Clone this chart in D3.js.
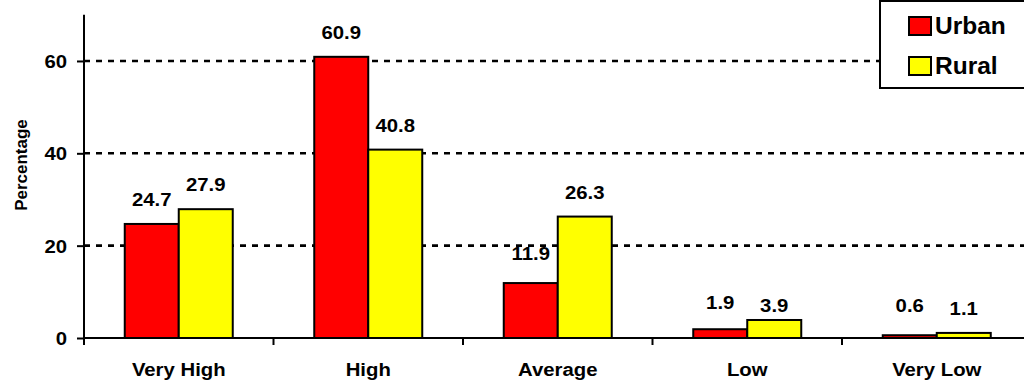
<!DOCTYPE html>
<html>
<head>
<meta charset="utf-8">
<script src="https://cdn.jsdelivr.net/npm/d3@7"></script>
<style>
  body { margin: 0; background: #fff; }
  text { font-family: "Liberation Sans", Arial, sans-serif; font-weight: bold; fill: #000; }
</style>
</head>
<body>
<svg id="chart" width="1024" height="383"></svg>
<script>
// Chart data
const categories = ["Very High", "High", "Average", "Low", "Very Low"];
const seriesNames = ["Urban", "Rural"];
const urbanValues = [24.7, 60.9, 11.9, 1.9, 0.6];
const ruralValues = [27.9, 40.8, 26.3, 3.9, 1.1];
const yTickValues = [0, 20, 40, 60];
const yAxisTitle = "Percentage";

const seriesColors = { Urban: "#ff0000", Rural: "#ffff00" };

// Layout
const plot = { left: 84, right: 1031.5, top: 14.8, bottom: 338 };
const groupWidth = 108;
const textStretch = 1.13;
const fontSize = 18;

// Label lift above bar top (to label centre), with a few hand-placed exceptions
const defaultLift = 24.5;
const liftOverrides = {
  "Urban|Average": 29.5,
  "Urban|Low": 26.5,
  "Rural|Low": 14,
  "Urban|Very Low": 30
};

const svg = d3.select("#chart");

const x = d3.scaleBand().domain(categories).range([plot.left, plot.right]).padding(0);
const xs = d3.scaleBand().domain(seriesNames)
  .range([(x.bandwidth() - groupWidth) / 2, (x.bandwidth() + groupWidth) / 2]);
const y = d3.scaleLinear().domain([0, 70]).range([plot.bottom, plot.top]);

const rows = categories.map((c, i) => ({
  category: c,
  values: [
    { series: "Urban", value: urbanValues[i] },
    { series: "Rural", value: ruralValues[i] }
  ]
}));

// Dashed horizontal gridlines
svg.append("g").selectAll("line")
  .data(yTickValues.filter(v => v > 0))
  .join("line")
  .attr("x1", plot.left).attr("x2", 1024)
  .attr("y1", d => y(d)).attr("y2", d => y(d))
  .attr("stroke", "#000").attr("stroke-width", 2.6)
  .attr("stroke-dasharray", "6,6");

// Bars
const groups = svg.append("g").selectAll("g")
  .data(rows).join("g")
  .attr("transform", d => `translate(${x(d.category)},0)`);

groups.selectAll("rect")
  .data(d => d.values)
  .join("rect")
  .attr("x", d => xs(d.series))
  .attr("width", xs.bandwidth())
  .attr("y", d => y(d.value))
  .attr("height", d => y(0) - y(d.value))
  .attr("fill", d => seriesColors[d.series])
  .attr("stroke", "#000").attr("stroke-width", 2);

// Value labels
groups.each(function (row) {
  d3.select(this).selectAll("text")
    .data(row.values)
    .join("text")
    .attr("text-anchor", "middle")
    .attr("font-size", fontSize)
    .attr("transform", d => {
      const lift = liftOverrides[d.series + "|" + row.category] ?? defaultLift;
      const cx = xs(d.series) + xs.bandwidth() / 2;
      const by = y(d.value) - lift + 6.5;
      return `translate(${cx},${by}) scale(${textStretch},1)`;
    })
    .text(d => d.value.toFixed(1));
});

// Y axis
const yAxis = d3.axisLeft(y).tickValues(yTickValues).tickSize(7).tickFormat(d3.format("d"));
const gy = svg.append("g").attr("transform", `translate(${plot.left},0)`).call(yAxis);
gy.select(".domain").remove();
gy.selectAll(".tick line").attr("stroke", "#000").attr("stroke-width", 2);
gy.selectAll(".tick text")
  .attr("x", null).attr("dy", null)
  .attr("font-size", fontSize)
  .attr("text-anchor", "end")
  .attr("transform", `translate(-17,6.5) scale(${textStretch},1)`);
svg.append("line")
  .attr("x1", plot.left).attr("x2", plot.left)
  .attr("y1", plot.top).attr("y2", plot.bottom + 7)
  .attr("stroke", "#000").attr("stroke-width", 2);

// X axis: baseline, boundary ticks and category labels
svg.append("line")
  .attr("x1", plot.left).attr("x2", 1024)
  .attr("y1", plot.bottom).attr("y2", plot.bottom)
  .attr("stroke", "#000").attr("stroke-width", 2);
svg.append("g").selectAll("line")
  .data(categories.slice(1))
  .join("line")
  .attr("x1", d => x(d)).attr("x2", d => x(d))
  .attr("y1", plot.bottom).attr("y2", plot.bottom + 7)
  .attr("stroke", "#000").attr("stroke-width", 2);
svg.append("g").selectAll("text")
  .data(categories)
  .join("text")
  .attr("text-anchor", "middle")
  .attr("font-size", fontSize)
  .attr("transform", d => `translate(${x(d) + x.bandwidth() / 2},376) scale(${textStretch},1)`)
  .text(d => d);

// Y axis title
svg.append("text")
  .attr("text-anchor", "middle")
  .attr("font-size", 17)
  .attr("transform", "translate(27,165) rotate(-90)")
  .text(yAxisTitle);

// Legend
const legend = svg.append("g");
legend.append("rect")
  .attr("x", 880).attr("y", 1).attr("width", 160).attr("height", 87)
  .attr("fill", "#fff").attr("stroke", "#000").attr("stroke-width", 2);
const legendItems = legend.selectAll("g.item")
  .data(seriesNames).join("g").attr("class", "item")
  .attr("transform", (d, i) => `translate(909,${17 + i * 40})`);
legendItems.append("rect")
  .attr("width", 22).attr("height", 18)
  .attr("fill", d => seriesColors[d])
  .attr("stroke", "#000").attr("stroke-width", 2);
legendItems.append("text")
  .attr("x", 26).attr("y", 17)
  .attr("font-size", 24.5)
  .text(d => d);
</script>
</body>
</html>
